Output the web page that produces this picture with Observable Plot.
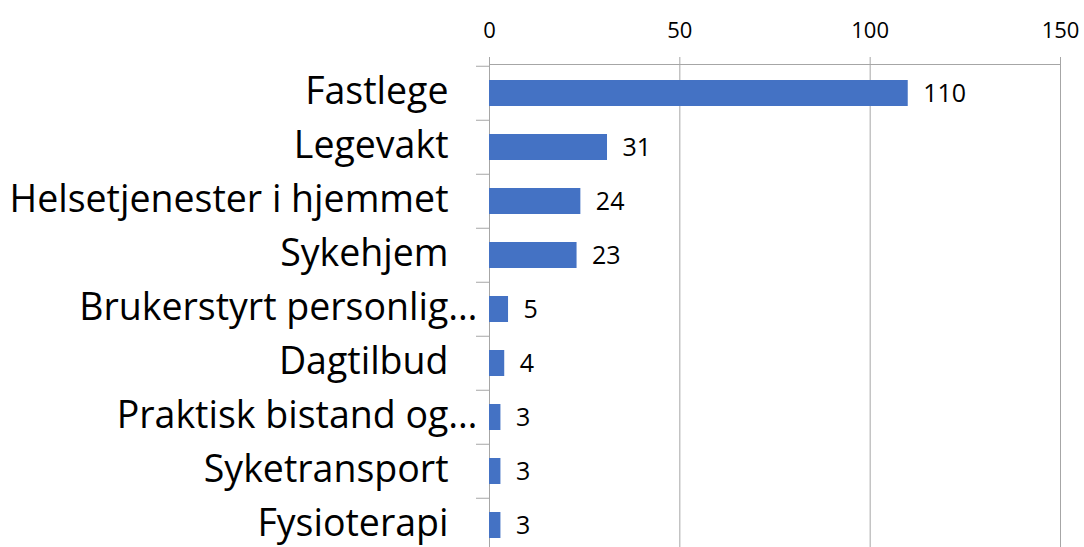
<!DOCTYPE html>
<html>
<head>
<meta charset="utf-8">
<script src="https://cdn.jsdelivr.net/npm/d3@7"></script>
<script src="https://cdn.jsdelivr.net/npm/@observablehq/plot@0.6"></script>
<style>
  html, body { margin: 0; padding: 0; background: #fff; overflow: hidden; }
  #chart svg { display: block; }
</style>
</head>
<body>
<div id="chart"></div>
<script>
const categories = ["Fastlege", "Legevakt", "Helsetjenester i hjemmet", "Sykehjem", "Brukerstyrt personlig…", "Dagtilbud", "Praktisk bistand og…", "Syketransport", "Fysioterapi"];
const values = [110, 31, 24, 23, 5, 4, 3, 3, 3];
const truncated = ["Brukerstyrt personlig…", "Praktisk bistand og…"];
const xTicks = [0, 50, 100, 150];

const data = categories.map((c, i) => ({category: c, value: values[i]}));
const fullLabels = categories.filter(c => !truncated.includes(c));
const cutLabels = categories.filter(c => truncated.includes(c));

const gray = "#a6a6a6";
const step = 54.5;

const chart = Plot.plot({
  width: 1084,
  height: 547,
  marginTop: 64,
  marginLeft: 489,
  marginRight: 24,
  marginBottom: 0,
  style: {fontFamily: "'Open Sans', sans-serif", background: "#fff", color: "#000", overflow: "visible"},
  x: {domain: [0, 150], range: [489, 1060]},
  y: {domain: categories, range: [64, 64 + step * categories.length], paddingInner: 0.523, paddingOuter: 0.2615},
  marks: [
    Plot.gridX(xTicks, {stroke: gray, strokeOpacity: 1, strokeWidth: 1}),
    Plot.frame({anchor: "top", stroke: gray, strokeOpacity: 1}),
    Plot.axisX(xTicks, {anchor: "top", tickSize: 8, tickPadding: 19, stroke: gray, strokeOpacity: 1, fontSize: 22, fill: "#000", label: null}),
    Plot.axisY({ticks: categories, tickSize: 13, dy: -step / 2, stroke: gray, strokeOpacity: 1, tickFormat: () => "", label: null}),
    Plot.barX(data, {y: "category", x: "value", fill: "#4472c4"}),
    Plot.text(data, {y: "category", x: "value", text: d => String(d.value), textAnchor: "start", dx: 15, fontSize: 25, fill: "#000"}),
    Plot.text(fullLabels, {y: d => d, frameAnchor: "left", text: d => d, textAnchor: "end", dx: -41, dy: -2, fontSize: 37.5, fill: "#000"}),
    Plot.text(cutLabels, {y: d => d, frameAnchor: "left", text: d => d, textAnchor: "end", dx: -12, dy: -2, fontSize: 37.5, fill: "#000"})
  ]
});
document.getElementById("chart").appendChild(chart);
</script>
</body>
</html>
